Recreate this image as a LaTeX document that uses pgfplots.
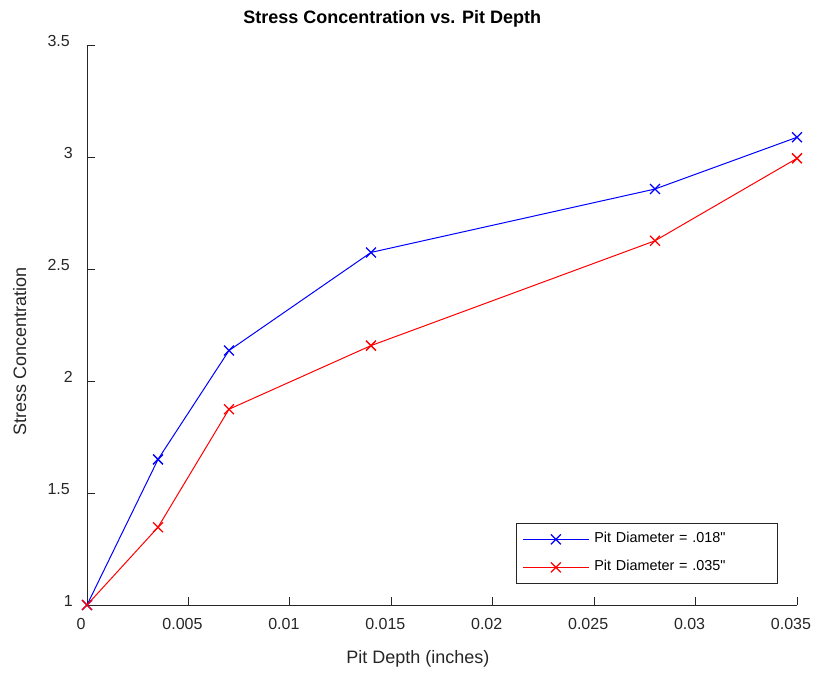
\documentclass[border=0pt]{standalone}
\usepackage{fontspec}
\setmainfont{Liberation Sans}[Ligatures=TeXOff]
\usepackage{pgfplots}
\pgfplotsset{compat=1.18}
\definecolor{axgray}{HTML}{262626}

\begin{document}
\begin{tikzpicture}
\useasboundingbox (0,0) rectangle (814pt,673pt);
\begin{axis}[
  at={(87pt,68pt)}, anchor=south west,
  scale only axis, width=710pt, height=560pt,
  xmin=0, xmax=0.035, ymin=1, ymax=3.5,
  clip=false,
  axis lines=left,
  axis line style={-, axgray, line width=0.8pt},
  tick align=inside, major tick length=8pt,
  tick style={axgray, line width=0.8pt},
  scaled x ticks=false,
  xtick={0,0.005,0.01,0.015,0.02,0.025,0.03,0.035},
  xticklabels={0,0.005,0.01,0.015,0.02,0.025,0.03,0.035},
  ytick={1,1.5,2,2.5,3,3.5},
  yticklabels={1,1.5\hspace*{3pt},2,2.5\hspace*{3pt},3,3.5\hspace*{3pt}},
  xticklabel style={font=\fontsize{16}{18}\selectfont, text=axgray, anchor=north, inner sep=0pt, yshift=-13pt, xshift=-6pt},
  yticklabel style={font=\fontsize{16}{18}\selectfont, text=axgray, anchor=east, inner sep=0pt, xshift=-14pt, yshift=4pt},
  title={Stress Concentration vs. Pit Depth},
  title style={font=\fontsize{18}{20}\selectfont\bfseries, at={(axis description cs:0.430,1.027)}, anchor=base},
  xlabel={Pit Depth (inches)},
  xlabel style={font=\fontsize{18}{20}\selectfont, text=axgray, at={(axis description cs:0.466,-0.1036)}, anchor=base},
  ylabel={Stress Concentration},
  ylabel style={font=\fontsize{18}{20}\selectfont, text=axgray, at={(axis description cs:-0.0859,0.452)}, anchor=base},
  legend style={at={(axis description cs:0.6042,0.1464)}, anchor=north west,
    draw=axgray, line width=0.8pt, font=\fontsize{14.4}{16}\selectfont,
    inner xsep=6pt, inner ysep=9.5pt, row sep=15pt, column sep=5pt,
    nodes={inner sep=0pt, text height=10pt, text depth=3pt},
    /tikz/every even column/.append style={text width=177pt}},
  legend cell align=left,
  legend image code/.code={\draw[mark repeat=2,mark phase=2,#1] plot coordinates {(0pt,0pt) (33pt,0pt) (66pt,0pt)};},
]
\addplot[blue, line width=1pt, mark=x, mark size=7pt, mark options={line width=1.3pt}] coordinates {
  (0,1) (0.0035,1.650) (0.007,2.136) (0.014,2.574) (0.028,2.857) (0.035,3.088)
};
\addlegendentry{Pit Diameter = .018"}
\addplot[red, line width=1pt, mark=x, mark size=7pt, mark options={line width=1.3pt}] coordinates {
  (0,1) (0.0035,1.347) (0.007,1.874) (0.014,2.158) (0.028,2.626) (0.035,2.994)
};
\addlegendentry{Pit Diameter = .035"}
\end{axis}
\end{tikzpicture}
\end{document}
